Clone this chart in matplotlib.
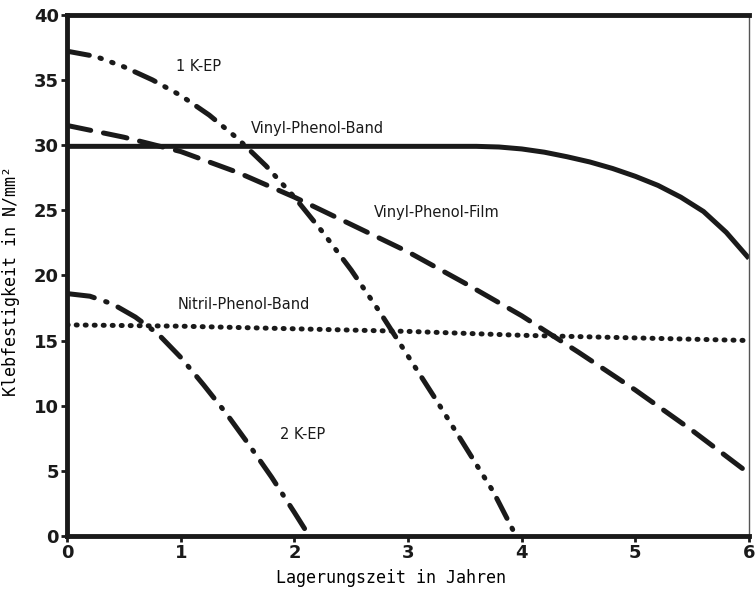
import matplotlib.pyplot as plt

# Lagerungszeit (Jahre) / Klebfestigkeit (N/mm²)
ep1_x = [0, 0.25, 0.5, 0.75, 1.0, 1.25, 1.5, 1.75, 2.0, 2.25, 2.5, 2.75, 3.0, 3.25, 3.5, 3.75, 3.95]
ep1_y = [37.2, 36.8, 36.0, 35.0, 33.8, 32.3, 30.5, 28.4, 26.0, 23.3, 20.4, 17.2, 13.8, 10.4, 6.9, 3.4, 0]

band_x = [0, 1, 2, 3, 3.6, 3.8, 4.0, 4.2, 4.4, 4.6, 4.8, 5.0, 5.2, 5.4, 5.6, 5.8, 6.0]
band_y = [29.9, 29.9, 29.9, 29.9, 29.9, 29.85, 29.7, 29.45, 29.1, 28.7, 28.2, 27.6, 26.9, 26.0, 24.9, 23.3, 21.3]

film_x = [0, 0.5, 1, 1.5, 2, 2.5, 3, 3.5, 4, 4.5, 5, 5.5, 6]
film_y = [31.5, 30.6, 29.5, 27.9, 26.0, 23.9, 21.8, 19.4, 16.9, 14.1, 11.2, 8.1, 4.8]

nitril_x = [0, 1, 2, 3, 4, 5, 6]
nitril_y = [16.2, 16.1, 15.9, 15.7, 15.4, 15.2, 15.0]

ep2_x = [0, 0.2, 0.4, 0.6, 0.8, 1.0, 1.2, 1.4, 1.6, 1.8, 2.0, 2.13]
ep2_y = [18.6, 18.4, 17.8, 16.8, 15.5, 13.7, 11.6, 9.4, 7.0, 4.5, 1.8, 0]

labels = ["1 K-EP", "Vinyl-Phenol-Band", "Vinyl-Phenol-Film", "Nitril-Phenol-Band", "2 K-EP"]
label_pos = [(1.16, 36.0), (2.2, 31.3), (3.25, 24.8), (1.55, 17.8), (2.07, 7.8)]

fig = plt.figure(figsize=(7.55, 5.89), dpi=100)
ax = fig.add_axes([0.089, 0.09, 0.903, 0.885])

lw = 3.6
ax.plot(ep1_x, ep1_y, color="#1a1a1a", lw=lw, dash_capstyle="round",
        dashes=(4.5, 2.2, 0.3, 2.2, 0.3, 2.2, 0.3, 2.2))
ax.plot(band_x, band_y, color="#1a1a1a", lw=lw, solid_capstyle="butt")
ax.plot(film_x, film_y, color="#1a1a1a", lw=lw, dash_capstyle="round", dashes=(4.8, 2.6))
ax.plot(nitril_x, nitril_y, color="#1a1a1a", lw=lw, dash_capstyle="round", dashes=(0.2, 1.6))
ax.plot(ep2_x, ep2_y, color="#1a1a1a", lw=lw, dash_capstyle="round", dashes=(5.5, 2.4, 0.3, 2.4))

for t, (tx, ty) in zip(labels, label_pos):
    ax.text(tx, ty, t, ha="center", va="center", fontsize=10.5,
            family="Liberation Sans Narrow", color="#1a1a1a")

ax.set_xlim(0, 6)
ax.set_ylim(0, 40)
ax.set_xticks(range(7))
ax.set_yticks(range(0, 41, 5))
ax.tick_params(direction="out", length=4, width=2, labelsize=13, pad=2, colors="#1a1a1a")
for lab in ax.get_xticklabels() + ax.get_yticklabels():
    lab.set_fontweight("bold")

for s in ["left", "bottom", "top"]:
    ax.spines[s].set_linewidth(3.5)
    ax.spines[s].set_color("#1a1a1a")
ax.spines["right"].set_linewidth(1)
ax.spines["right"].set_color("#555555")

ax.set_xlabel("Lagerungszeit in Jahren", family="DejaVu Sans Mono", fontsize=12)
ax.set_ylabel("Klebfestigkeit in N/mm²", family="DejaVu Sans Mono", fontsize=12)
ax.xaxis.set_label_coords(0.475, -0.064)
ax.yaxis.set_label_coords(-0.069, 0.49)

fig.savefig("out.png", dpi=100)
